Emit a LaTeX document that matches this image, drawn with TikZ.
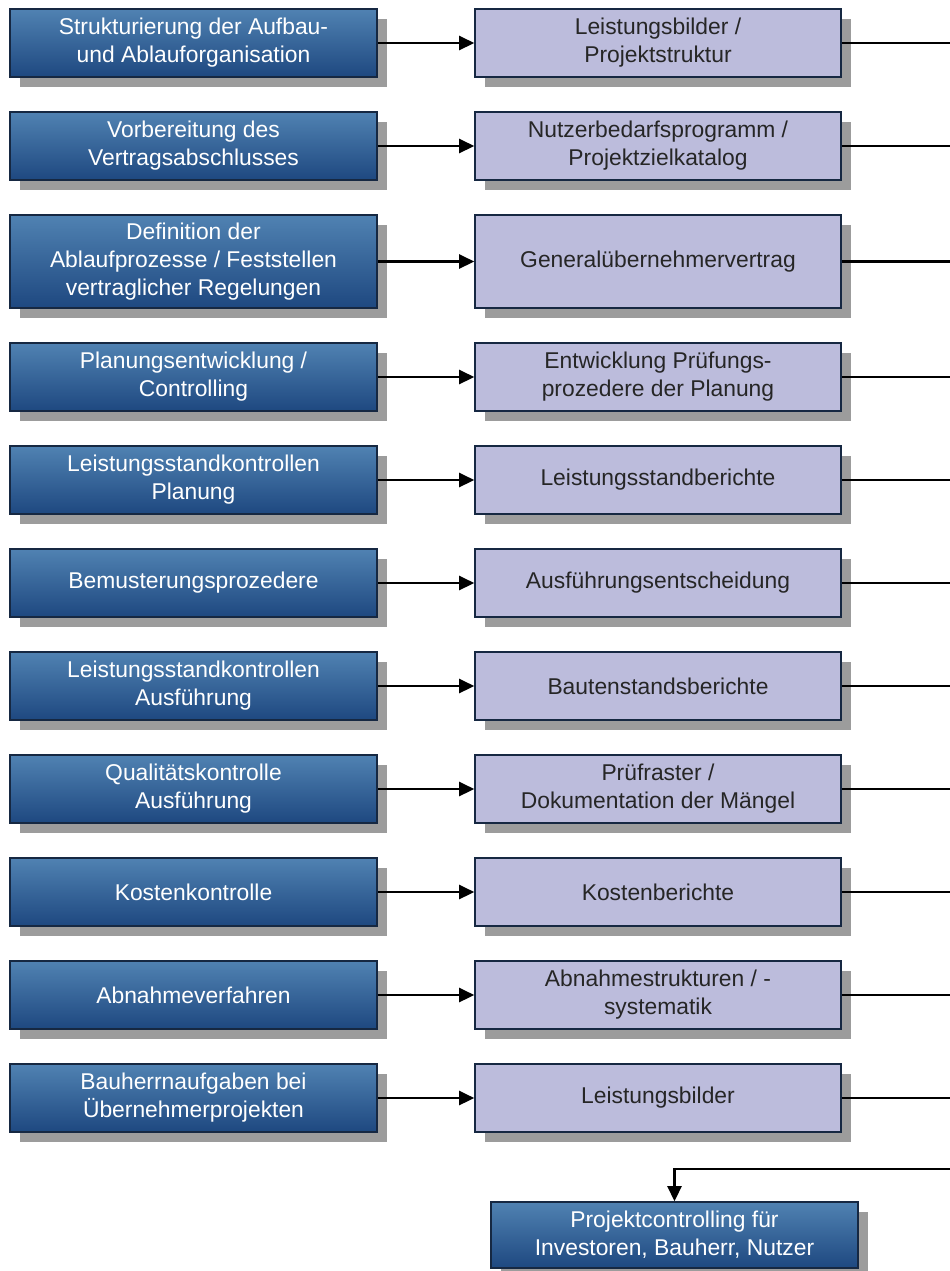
\documentclass[tikz,border=0pt]{standalone}
\usepackage{fontspec}
\setmainfont{Liberation Sans}
\usetikzlibrary{arrows.meta,shadows,calc}
\definecolor{bluetop}{RGB}{80,130,178}
\definecolor{bluebot}{RGB}{30,72,128}
\definecolor{boxline}{RGB}{22,40,66}
\definecolor{lavender}{RGB}{188,188,220}
\definecolor{shadowgray}{RGB}{156,156,156}

\begin{document}
\begin{tikzpicture}[>={Triangle[length=3mm,width=2.8mm]},
  task/.style={draw=boxline,line width=0.9pt,top color=bluetop,bottom color=bluebot,text=white,
    minimum width=7.34cm,minimum height=1.36cm,align=center,font=\fontsize{13}{16}\selectfont,
    drop shadow={shadow xshift=0.2cm,shadow yshift=-0.2cm,fill=shadowgray,opacity=1}},
  result/.style={draw=boxline,line width=0.9pt,fill=lavender,text=black!85,
    minimum width=7.32cm,minimum height=1.36cm,align=center,font=\fontsize{13}{16}\selectfont,
    drop shadow={shadow xshift=0.2cm,shadow yshift=-0.2cm,fill=shadowgray,opacity=1}},
  link/.style={line width=1.4pt,black}]
  \useasboundingbox (0,0) rectangle (19,-25.42);
  \coordinate (edge) at (19,0);
  % left column: tasks
  \node[task] (a1) at (3.87,-0.86) {Strukturierung der Aufbau-\\und Ablauforganisation};
  \node[task] (a2) at (3.87,-2.92) {Vorbereitung des\\Vertragsabschlusses};
  \node[task,minimum height=1.86cm] (a3) at (3.87,-5.23) {Definition der\\Ablaufprozesse / Feststellen\\vertraglicher Regelungen};
  \node[task] (a4) at (3.87,-7.54) {Planungsentwicklung /\\Controlling};
  \node[task] (a5) at (3.87,-9.6) {Leistungsstandkontrollen\\Planung};
  \node[task] (a6) at (3.87,-11.66) {Bemusterungsprozedere};
  \node[task] (a7) at (3.87,-13.72) {Leistungsstandkontrollen\\Ausführung};
  \node[task] (a8) at (3.87,-15.78) {Qualitätskontrolle\\Ausführung};
  \node[task] (a9) at (3.87,-17.84) {Kostenkontrolle};
  \node[task] (a10) at (3.87,-19.9) {Abnahmeverfahren};
  \node[task] (a11) at (3.87,-21.96) {Bauherrnaufgaben bei\\Übernehmerprojekten};
  % right column: results
  \node[result] (b1) at (13.16,-0.86) {Leistungsbilder /\\Projektstruktur};
  \node[result] (b2) at (13.16,-2.92) {Nutzerbedarfsprogramm /\\Projektzielkatalog};
  \node[result,minimum height=1.86cm] (b3) at (13.16,-5.23) {Generalübernehmervertrag};
  \node[result] (b4) at (13.16,-7.54) {Entwicklung Prüfungs-\\prozedere der Planung};
  \node[result] (b5) at (13.16,-9.6) {Leistungsstandberichte};
  \node[result] (b6) at (13.16,-11.66) {Ausführungsentscheidung};
  \node[result] (b7) at (13.16,-13.72) {Bautenstandsberichte};
  \node[result] (b8) at (13.16,-15.78) {Prüfraster /\\Dokumentation der Mängel};
  \node[result] (b9) at (13.16,-17.84) {Kostenberichte};
  \node[result] (b10) at (13.16,-19.9) {Abnahmestrukturen / -\\systematik};
  \node[result] (b11) at (13.16,-21.96) {Leistungsbilder};
  % bottom box
  \node[task,minimum height=1.32cm] (ctrl) at (13.49,-24.7) {Projektcontrolling für\\Investoren, Bauherr, Nutzer};
  % connectors
  \draw[link,->] (a1) -- (b1); \draw[link] (b1.east) -- (b1.east -| edge);
  \draw[link,->] (a2) -- (b2); \draw[link] (b2.east) -- (b2.east -| edge);
  \draw[link,->] (a3) -- (b3); \draw[link] (b3.east) -- (b3.east -| edge);
  \draw[link,->] (a4) -- (b4); \draw[link] (b4.east) -- (b4.east -| edge);
  \draw[link,->] (a5) -- (b5); \draw[link] (b5.east) -- (b5.east -| edge);
  \draw[link,->] (a6) -- (b6); \draw[link] (b6.east) -- (b6.east -| edge);
  \draw[link,->] (a7) -- (b7); \draw[link] (b7.east) -- (b7.east -| edge);
  \draw[link,->] (a8) -- (b8); \draw[link] (b8.east) -- (b8.east -| edge);
  \draw[link,->] (a9) -- (b9); \draw[link] (b9.east) -- (b9.east -| edge);
  \draw[link,->] (a10) -- (b10); \draw[link] (b10.east) -- (b10.east -| edge);
  \draw[link,->] (a11) -- (b11); \draw[link] (b11.east) -- (b11.east -| edge);
  \coordinate (back) at (19,-23.38);
  \draw[link,->] (back) -| (ctrl.north);
\end{tikzpicture}
\end{document}
